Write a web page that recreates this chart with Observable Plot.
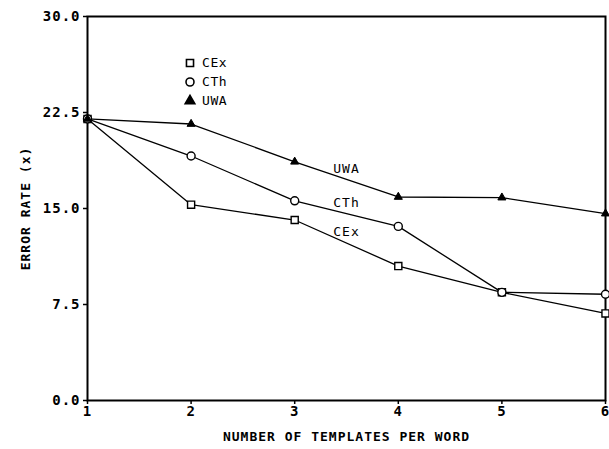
<!DOCTYPE html>
<html><head><meta charset="utf-8">
<script src="https://cdn.jsdelivr.net/npm/d3@7"></script>
<script src="https://cdn.jsdelivr.net/npm/@observablehq/plot@0.6"></script>
<style>
body{margin:0;background:#fff;}
#chart{position:relative;width:609px;height:449px;}
#legend{position:absolute;left:185px;top:53px;font:13px "DejaVu Sans Mono",monospace;letter-spacing:0.6px;color:#000;}
#legend .row{height:19px;display:flex;align-items:center;}
#legend svg{margin-right:7px;overflow:visible}
</style></head>
<body>
<div id="chart"><div id="legend"></div></div>
<script>
const templates = [1, 2, 3, 4, 5, 6];
const seriesNames = ["CEx", "CTh", "UWA"];
const cex = [22.0, 15.3, 14.1, 10.5, 8.45, 6.8];
const cth = [22.0, 19.1, 15.6, 13.6, 8.45, 8.3];
const uwa = [22.0, 21.6, 18.65, 15.9, 15.85, 14.6];
const yTicks = [0, 7.5, 15, 22.5, 30];
const xTitle = "NUMBER OF TEMPLATES PER WORD";
const yTitle = "ERROR RATE (x)";

const valuesBySeries = {CEx: cex, CTh: cth, UWA: uwa};
const data = seriesNames.flatMap(s => templates.map((t, i) => ({series: s, x: t, y: valuesBySeries[s][i]})));
// in-plot labels placed at the midpoint of the 3->4 segment of each series
const labels = seriesNames.map(s => ({series: s, x: (templates[2] + templates[3]) / 2, y: (valuesBySeries[s][2] + valuesBySeries[s][3]) / 2}));

const symbols = ["square", "circle", "triangle"];
const fillOf = s => s === "UWA" ? "black" : "white";

const chart = Plot.plot({
  width: 609, height: 449,
  marginLeft: 87, marginRight: 4, marginTop: 16, marginBottom: 49,
  style: {fontFamily: "DejaVu Sans Mono", fontSize: "14px", fontWeight: "bold", color: "#000", background: "#fff", letterSpacing: "1px"},
  x: {domain: [1, 6]},
  y: {domain: [0, 30]},
  symbol: {domain: seriesNames, range: symbols},
  marks: [
    Plot.frame({stroke: "black", strokeWidth: 2}),
    Plot.axisY({ticks: yTicks, tickFormat: d => d.toFixed(1), tickSize: 4, tickPadding: 3, strokeWidth: 1.5,
      label: null}),
    Plot.axisY({ticks: [], label: yTitle, labelAnchor: "center", labelArrow: "none", labelOffset: 67,
      fontSize: 13, letterSpacing: "1.6px"}),
    Plot.axisX({ticks: templates, tickFormat: d => String(d), tickSize: 4, tickPadding: 2, strokeWidth: 1.5,
      label: null}),
    Plot.axisX({ticks: [], label: xTitle, labelAnchor: "center", labelArrow: "none", labelOffset: 40,
      fontSize: 13, letterSpacing: "1.6px"}),
    Plot.line(data, {x: "x", y: "y", z: "series", stroke: "black", strokeWidth: 1.3}),
    Plot.dot(data.filter(d => d.series !== "UWA"), {x: "x", y: "y", symbol: "series", r: 4, stroke: "black", strokeWidth: 1.4, fill: "white"}),
    Plot.dot(data.filter(d => d.series === "UWA"), {x: "x", y: "y", symbol: "series", r: 3, stroke: "black", strokeWidth: 1, fill: "black"}),
    Plot.text(labels, {x: "x", y: "y", text: "series", dy: -11, fontWeight: "normal", fontSize: 13, fill: "black", letterSpacing: "0.6px"})
  ]
});
document.getElementById("chart").prepend(chart);

const leg = document.getElementById("legend");
seriesNames.forEach((s, i) => {
  const row = document.createElement("div");
  row.className = "row";
  const sym = d3.symbol(d3[["symbolSquare", "symbolCircle", "symbolTriangle"][i]], i === 2 ? 40 : 50)();
  row.innerHTML = `<svg width="10" height="10" viewBox="-5 -5 10 10"><path d="${sym}" fill="${fillOf(s)}" stroke="black" stroke-width="1.6"/></svg><span>${s}</span>`;
  leg.appendChild(row);
});
</script>
</body></html>
